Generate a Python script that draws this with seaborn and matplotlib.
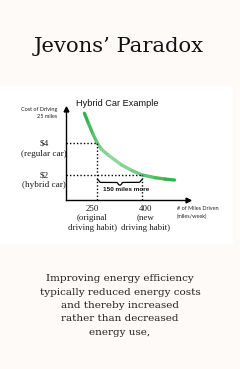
import numpy as np
import pandas as pd
import matplotlib
matplotlib.use("Agg")
import matplotlib.pyplot as plt
import seaborn as sns
from matplotlib.patches import Rectangle
from matplotlib.colors import to_rgb

# ---- data ----
miles = [207, 220, 235, 250, 265, 286, 310, 331, 365, 400, 442, 475, 507]
cost = [5.89, 5.28, 4.6, 4.0, 3.6, 3.26, 2.92, 2.63, 2.28, 2.0, 1.83, 1.74, 1.68]
marked_miles = [250, 400]
marked_cost = [4, 2]
tick_labels = ["250\n(original\ndriving habit)", "400\n(new\ndriving habit)"]
cost_labels = ["$4\n(regular car)", "$2\n(hybrid car)"]
title = "Jevons\u2019 Paradox"
chart_title = "Hybrid Car Example"
ylabel = "Cost of Driving\n25 miles"
xlabel = "# of Miles Driven\n(miles/week)"
gap_label = "150 miles more"
caption = ("Improving energy efficiency\ntypically reduced energy costs\n"
           "and thereby increased\nrather than decreased\nenergy use,")

sns.set_style("white")
W, H = 240, 369
fig = plt.figure(figsize=(W / 100, H / 100), dpi=100)
fig.patch.set_facecolor("#fefaf8")

def fx(px):
    return px / W

def fy(py):
    return 1 - py / H

fig.patches.append(Rectangle((0, fy(244)), fx(233), fy(86) - fy(244),
                             transform=fig.transFigure, facecolor="white",
                             edgecolor="none", zorder=-5))

ax = fig.add_axes([fx(66), fy(200), fx(188) - fx(66), fy(109) - fy(200)])
ax.set_zorder(2)
ax.set_facecolor("none")
ax.patch.set_alpha(0)
ax.set_xlim(145.7, 552)
ax.set_ylim(0.42, 6.16)

# curve with gradient
df = pd.DataFrame({"miles": miles, "cost": cost})
dark = np.array(to_rgb("#2eb247"))
light = np.array(to_rgb("#92d69c"))
n = len(df)
for i in range(n - 1):
    t = (i + 0.5) / (n - 1)
    w = np.sin(np.pi * t) ** 1.5
    c = dark * (1 - w) + light * w
    sns.lineplot(data=df.iloc[i:i + 2], x="miles", y="cost", ax=ax,
                 color=c, linewidth=2.4, solid_capstyle="round", sort=False)

# dotted guides
for mx, cy in zip(marked_miles, marked_cost):
    ax.plot([ax.get_xlim()[0], mx], [cy, cy], color="black", lw=1.0,
            linestyle=(0, (1, 1.5)))
    ax.plot([mx, mx], [ax.get_ylim()[0], cy], color="black", lw=1.0,
            linestyle=(0, (1, 1.5)))

# axes spines with arrows
sns.despine(ax=ax, top=True, right=True)
for s in ["left", "bottom"]:
    ax.spines[s].set_visible(True)
    ax.spines[s].set_color("black")
    ax.spines[s].set_linewidth(1.0)
ax.plot(1, 0, ">", color="black", ms=3.5, transform=ax.transAxes, clip_on=False)
ax.plot(0, 1, "^", color="black", ms=3.5, transform=ax.transAxes, clip_on=False)
ax.set_xticks([])
ax.set_yticks([])
ax.set_xlabel("")
ax.set_ylabel("")

# curly brace between the two mileages
x0, x1 = marked_miles
ybr = marked_cost[1] - 0.3
hb = 0.34
xs = np.linspace(x0, x1, 200)
u = (xs - x0) / (x1 - x0)
half = np.where(u < 0.5, u * 2, (1 - u) * 2)
edge = 1 / (1 + np.exp(-(half - 0.08) * 60))
tip = 1 / (1 + np.exp(-(half - 0.92) * 60))
ax.plot(xs, ybr - hb * 0.5 * edge - hb * 0.5 * tip, color="black", lw=0.9)

serif = ["DejaVu Serif"]
serif2 = ["Liberation Serif"]
sans = ["Liberation Sans"]

fig.text(fx(119), fy(47), title, ha="center", va="center",
         fontsize=15.2, family=serif, color="#111111")
fig.text(fx(117), fy(103), chart_title, ha="center", va="center",
         fontsize=6.6, family=sans, color="#111111")
fig.text(fx(57), fy(113.5), ylabel, ha="right", va="center",
         fontsize=4.0, family=["Lato"], color="#222222", linespacing=1.5)
ax.text(0.5 * (x0 + x1) + 22, ybr - 0.6, gap_label, ha="center",
        va="center", fontsize=4.6, family=sans, fontweight="bold",
        color="#111111")

for cy, lab in zip(marked_cost, cost_labels):
    py = 200 - (cy - 0.42) * (91 / (6.16 - 0.42))
    fig.text(fx(44), fy(py + 5.5), lab, ha="center", va="center",
             fontsize=6.6, family=serif2, color="#1a1a1a", linespacing=1.3)

for mx, lab, dxp in zip(marked_miles, tick_labels, [-5, 3]):
    px = 66 + (mx - 145.7) * (122 / (552 - 145.7)) + dxp
    fig.text(fx(px), fy(218.5), lab, ha="center", va="center",
             fontsize=6.4, family=serif2, color="#1a1a1a", linespacing=1.25)

fig.text(fx(177), fy(212.5), xlabel, ha="left", va="center",
         fontsize=4.0, family=["Lato"], color="#222222", linespacing=1.5)

fig.text(fx(120), fy(305.5), caption, ha="center", va="center",
         fontsize=7.5, family=serif, color="#222222", linespacing=1.63)

fig.savefig("out.png", dpi=100, facecolor=fig.get_facecolor())
